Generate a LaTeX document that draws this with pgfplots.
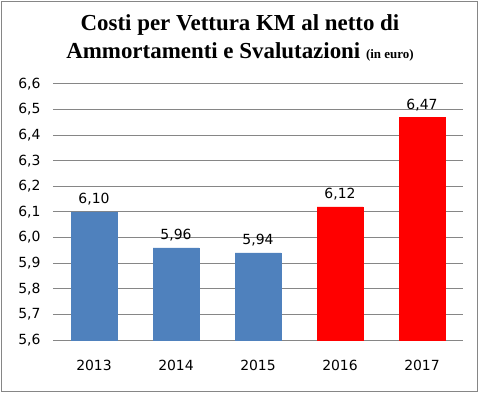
\documentclass[border=0pt]{standalone}
\usepackage{fontspec}
\setmainfont{DejaVu Sans}
\newfontfamily\titlefont{Liberation Serif}
\usepackage{pgfplots}
\pgfplotsset{compat=1.18}
\definecolor{barblue}{HTML}{4F81BD}
\definecolor{gridgray}{HTML}{868686}
\begin{document}
\begin{tikzpicture}[x=1bp,y=1bp]
\useasboundingbox (-53bp,-54bp) rectangle (427bp,340bp);
\draw[gridgray, line width=1bp] (-51bp,-51bp) rectangle (424bp,338bp);
\begin{axis}[
  at={(0,0)}, anchor=south west,
  scale only axis, width=410bp, height=256bp,
  xmin=-0.5, xmax=4.5, ymin=5.6, ymax=6.6,
  xtick={0,1,2,3,4}, xticklabels={2013,2014,2015,2016,2017},
  ytick={5.6,5.7,5.8,5.9,6.0,6.1,6.2,6.3,6.4,6.5,6.6},
  /pgf/number format/assume math mode=true,
  /pgf/number format/use comma,
  yticklabel style={/pgf/number format/fixed,/pgf/number format/fixed zerofill,/pgf/number format/precision=1, font=\fontsize{14}{16}\selectfont, xshift=-9bp},
  xticklabel style={font=\fontsize{14}{16}\selectfont, yshift=-12bp},
  ymajorgrids, grid style={gridgray, line width=1bp},
  axis line style={draw=none},
  major tick style={draw=none},
  ybar, bar width=46bp, bar shift=0pt,
  nodes near coords,
  every node near coord/.append style={font=\fontsize{14}{16}\selectfont, black, /pgf/number format/fixed,/pgf/number format/fixed zerofill,/pgf/number format/precision=2, /pgf/number format/use comma, yshift=3bp},
  clip=false,
]
\addplot[fill=barblue, draw=barblue] coordinates {(0,6.10) (1,5.96) (2,5.94)};
\addplot[fill=red, draw=red] coordinates {(3,6.12) (4,6.47)};
\end{axis}
\node[align=center, font=\titlefont\bfseries\fontsize{23}{28}\selectfont] at (187bp,302bp) {Costi per Vettura KM al netto di\\Ammortamenti e Svalutazioni {\fontsize{13}{12}\selectfont (in euro)}};
\end{tikzpicture}
\end{document}
